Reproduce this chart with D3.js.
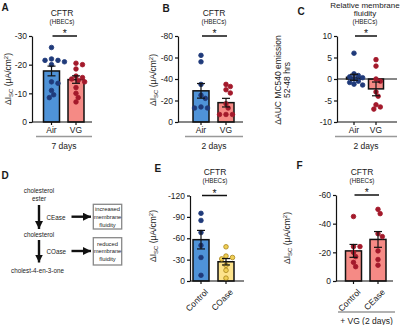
<!DOCTYPE html>
<html>
<head>
<meta charset="utf-8">
<script src="https://cdn.jsdelivr.net/npm/d3@7"></script>
<style>
  body { margin: 0; background: #fff; }
  svg { display: block; font-family: 'Liberation Sans', Arial, sans-serif; }
</style>
</head>
<body>
<div id="chart"></div>
<script>
// values (ΔIsc is negative, plotted with -30 on top)
const aCats = ['Air', 'VG']
const aAir = [-26, -22, -21.5, -21.5, -21, -20, -14, -13.5, -11, -9.5, -8.5]
const aVG = [-20.5, -20, -18.5, -16, -15.5, -15, -14.5, -14, -12, -10, -8.5, -7]
const aMeans = [-17.8, -14.8]
const aSems = [1.7, 1.3]
const aTicks = [0, -10, -20, -30]

const bCats = ['Air', 'VG']
const bAir = [-62, -56, -35, -25, -22, -14, -13, -13]
const bVG = [-35, -33, -30, -27, -17, -13, -7, -7, -7]
const bMeans = [-29, -18]
const bSems = [6.8, 4]
const bTicks = [0, -20, -40, -60, -80]

const cCats = ['Air', 'VG']
const cAir = [6, 1.2, 0.8, 0.5, 0.3, 0, -0.5, -0.8, -1.2, -1.4]
const cVG = [4.5, 3, 0, -0.5, -3, -4, -6, -6.5, -7]
const cMeans = [0.4, -2.3]
const cSems = [0.7, 1.6]
const cTicks = [-10, -5, 0, 5, 10]

const eCats = ['Control', 'COase']
const eControl = [-95, -85, -68, -50, -33, -8]
const eCOase = [-48, -35, -33, -31, -22, -15, -4]
const eMeans = [-58, -27]
const eSems = [13, 4.5]
const eTicks = [0, -30, -60, -90, -120]

const fCats = ['Control', 'CEase']
const fControl = [-45, -24, -24, -20, -17, -13, -10]
const fCEase = [-50, -47, -33, -31, -21, -15, -11]
const fMeans = [-21, -29]
const fSems = [4.5, 5.5]
const fTicks = [0, -20, -40, -60]

const BLUE = { fill: '#4f93d8', dot: '#1f3a7a', dotStroke: '#1f3a7a' }
const RED = { fill: '#f58a85', dot: '#a3192b', dotStroke: '#a3192b' }
const YELLOW = { fill: '#fde38c', dot: '#f0cf55', dotStroke: '#a8841c' }

const svg = d3.select('#chart')
  .append('svg')
  .attr('width', 400)
  .attr('height', 325)

const ink = '#1a1a1a'

function txt (x, y, s, size, opt = {}) {
  return svg.append('text')
    .attr('x', x)
    .attr('y', y)
    .attr('text-anchor', opt.anchor || 'middle')
    .attr('font-size', size)
    .attr('font-weight', opt.bold ? 'bold' : null)
    .attr('fill', opt.fill || ink)
    .text(s)
}

// simple deterministic swarm so dots don't sit on top of each other
function swarm (vals, y, cx, r) {
  const placed = []
  return vals.map(v => {
    const yy = y(v)
    let x = cx
    for (let k = 0; k < 30; k++) {
      const off = k === 0 ? 0 : (k % 2 ? 1 : -1) * Math.ceil(k / 2) * r * 0.9
      x = cx + off
      if (!placed.some(p => Math.hypot(p.x - x, p.y - yy) < r * 1.9)) break
    }
    placed.push({ x: x, y: yy })
    return { x: x, y: yy }
  })
}

function barPanel (cfg) {
  const y = d3.scaleLinear().domain(cfg.domain).range([cfg.yBottom, cfg.yTop])
  const step = (cfg.centers[1] - cfg.centers[0])
  const x = d3.scaleBand()
    .domain(cfg.cats)
    .range([cfg.centers[0] - step / 2, cfg.centers[1] + step / 2])
    .paddingInner(1 - cfg.barW / step)
    .paddingOuter((1 - cfg.barW / step) / 2)

  const g = svg.append('g')
  const base = y(0)

  // bars
  g.selectAll('.bar')
    .data(cfg.means)
    .enter()
    .append('rect')
    .attr('class', 'bar')
    .attr('x', (d, i) => x(cfg.cats[i]))
    .attr('width', x.bandwidth())
    .attr('y', d => Math.min(y(d), base))
    .attr('height', d => Math.abs(y(d) - base))
    .attr('fill', (d, i) => cfg.colors[i].fill)
    .attr('stroke', '#111')
    .attr('stroke-width', 1.5)

  // zero line when the axis does not start at 0
  if (cfg.zeroLine) {
    g.append('line')
      .attr('x1', cfg.axisX).attr('x2', cfg.xEnd)
      .attr('y1', base).attr('y2', base)
      .attr('stroke', '#111').attr('stroke-width', 1.2)
  }

  // dots
  cfg.dots.forEach((vals, i) => {
    const cx = x(cfg.cats[i]) + x.bandwidth() / 2
    g.selectAll('.dot' + i)
      .data(swarm(vals, y, cx, 2.4))
      .enter()
      .append('circle')
      .attr('cx', d => d.x)
      .attr('cy', d => d.y)
      .attr('r', 2.3)
      .attr('fill', cfg.colors[i].dot)
      .attr('stroke', cfg.colors[i].dotStroke)
      .attr('stroke-width', 0.8)
  })

  // error bars
  cfg.means.forEach((m, i) => {
    const cx = x(cfg.cats[i]) + x.bandwidth() / 2
    const y1 = y(m - cfg.sems[i])
    const y2 = y(m + cfg.sems[i])
    g.append('line')
      .attr('x1', cx).attr('x2', cx)
      .attr('y1', y1).attr('y2', y2)
      .attr('stroke', '#111').attr('stroke-width', 1.2)
    ;[y1, y2].forEach(yy => {
      g.append('line')
        .attr('x1', cx - 4).attr('x2', cx + 4)
        .attr('y1', yy).attr('y2', yy)
        .attr('stroke', '#111').attr('stroke-width', 1.2)
    })
  })

  // y axis
  const ya = g.append('g')
    .attr('transform', `translate(${cfg.axisX},0)`)
    .call(d3.axisLeft(y).tickValues(cfg.ticks).tickFormat(d => String(d))
      .tickSize(3).tickSizeOuter(0).tickPadding(2))
  ya.select('.domain').attr('stroke', '#111').attr('stroke-width', 1.2)
  ya.selectAll('.tick line').attr('stroke', '#111').attr('stroke-width', 1.2)
  ya.selectAll('.tick text').attr('font-size', 8.5).attr('fill', ink)
    .attr('font-family', "'Liberation Sans', Arial, sans-serif")

  // x axis
  g.append('line')
    .attr('x1', cfg.axisX).attr('x2', cfg.xEnd)
    .attr('y1', cfg.yBottom).attr('y2', cfg.yBottom)
    .attr('stroke', '#111').attr('stroke-width', 1.2)
  const xa = g.append('g')
    .attr('transform', `translate(0,${cfg.yBottom})`)
    .call(d3.axisBottom(x).tickSize(3).tickSizeOuter(0).tickPadding(2))
  xa.select('.domain').remove()
  xa.selectAll('.tick line').attr('stroke', '#111').attr('stroke-width', 1.2)
  xa.selectAll('.tick text').attr('font-size', 8.5).attr('fill', ink)
    .attr('font-family', "'Liberation Sans', Arial, sans-serif")
  if (cfg.rotate) {
    xa.selectAll('.tick text')
      .attr('text-anchor', 'end')
      .attr('dy', '0.35em')
      .attr('transform', 'translate(2,6) rotate(-45)')
  }

  // significance bar
  const sx1 = cfg.centers[0] + 1
  const sx2 = cfg.centers[1] + 1
  g.append('line')
    .attr('x1', sx1).attr('x2', sx2)
    .attr('y1', cfg.yTop).attr('y2', cfg.yTop)
    .attr('stroke', '#111').attr('stroke-width', 1.5)
  txt((sx1 + sx2) / 2, cfg.yTop + 1, '*', 10.5)

  // y title
  const t = svg.append('text')
    .attr('transform', `translate(${cfg.labelX},${cfg.labelY}) rotate(-90)`)
    .attr('text-anchor', 'middle')
    .attr('font-size', 8.5)
    .attr('fill', ink)
  if (cfg.yTitle) {
    cfg.yTitle.forEach((line, k) => {
      t.append('tspan').attr('x', 0).attr('dy', k === 0 ? 0 : 8.5).text(line)
    })
  } else {
    t.append('tspan').text('ΔI')
    t.append('tspan').attr('font-size', 6).attr('dy', 2).text('SC')
    t.append('tspan').attr('dy', -2).text(' (μA/cm')
    t.append('tspan').attr('font-size', 6).attr('dy', -3).text('2')
    t.append('tspan').attr('dy', 3).text(')')
  }

  // group line under categories
  if (cfg.group) {
    svg.append('line')
      .attr('x1', cfg.group.x1).attr('x2', cfg.group.x2)
      .attr('y1', cfg.group.y).attr('y2', cfg.group.y)
      .attr('stroke', '#999').attr('stroke-width', 1.5)
    txt((cfg.group.x1 + cfg.group.x2) / 2, cfg.group.y + 12, cfg.group.label, 8.5)
  }
}

// panel titles and letters
txt(1.5, 10.5, 'A', 10, { anchor: 'start', bold: true })
txt(62, 16, 'CFTR', 8.5)
txt(62, 24, '(HBECs)', 6.3)
txt(162.5, 11.5, 'B', 10, { anchor: 'start', bold: true })
txt(214, 16, 'CFTR', 8.5)
txt(214, 24, '(HBECs)', 6.3)
txt(297.5, 15, 'C', 10, { anchor: 'start', bold: true })
txt(365, 7.5, 'Relative membrane', 8)
txt(365, 16, 'fluidity', 8)
txt(365, 23.5, '(HBECs)', 6.3)
txt(1.5, 179, 'D', 10, { anchor: 'start', bold: true })
txt(154.5, 172, 'E', 10, { anchor: 'start', bold: true })
txt(215, 175, 'CFTR', 8.5)
txt(215, 183, '(HBECs)', 6.3)
txt(296.5, 169, 'F', 10, { anchor: 'start', bold: true })
txt(362, 175, 'CFTR', 8.5)
txt(362, 183, '(HBECs)', 6.3)

barPanel({
  cats: aCats, dots: [aAir, aVG], means: aMeans, sems: aSems, ticks: aTicks,
  domain: [0, -30], yBottom: 122, yTop: 36, axisX: 32, xEnd: 92,
  centers: [51.5, 76], barW: 16, colors: [BLUE, RED],
  labelX: 11, labelY: 79,
  group: { x1: 36, x2: 92, y: 136.5, label: '7 days' }
})

barPanel({
  cats: bCats, dots: [bAir, bVG], means: bMeans, sems: bSems, ticks: bTicks,
  domain: [0, -80], yBottom: 122, yTop: 36, axisX: 178, xEnd: 243,
  centers: [201, 226], barW: 16, colors: [BLUE, RED],
  labelX: 156, labelY: 80,
  group: { x1: 185, x2: 243, y: 136.5, label: '2 days' }
})

barPanel({
  cats: cCats, dots: [cAir, cVG], means: cMeans, sems: cSems, ticks: cTicks,
  domain: [-10, 10], yBottom: 122, yTop: 36, axisX: 337, xEnd: 397,
  centers: [354, 376], barW: 15, colors: [BLUE, RED], zeroLine: true,
  labelX: 281, labelY: 80, yTitle: ['ΔAUC MC540 emission', '52-48 hrs'],
  group: { x1: 335, x2: 397, y: 136.5, label: '2 days' }
})

barPanel({
  cats: eCats, dots: [eControl, eCOase], means: eMeans, sems: eSems, ticks: eTicks,
  domain: [0, -120], yBottom: 281, yTop: 195.5, axisX: 190, xEnd: 244,
  centers: [201, 226], barW: 16, colors: [BLUE, YELLOW], rotate: true,
  labelX: 156, labelY: 236
})

barPanel({
  cats: fCats, dots: [fControl, fCEase], means: fMeans, sems: fSems, ticks: fTicks,
  domain: [0, -60], yBottom: 281, yTop: 195, axisX: 336, xEnd: 393,
  centers: [353.5, 378], barW: 16, colors: [RED, RED], rotate: true,
  labelX: 290, labelY: 238,
  group: { x1: 338, x2: 395, y: 312, label: '+ VG (2 days)' }
})

// panel D: pathway diagram
const dSize = 6.3
svg.append('defs').append('marker')
  .attr('id', 'head')
  .attr('markerUnits', 'userSpaceOnUse')
  .attr('viewBox', '0 -5 10 10')
  .attr('refX', 10)
  .attr('refY', 0)
  .attr('markerWidth', 8)
  .attr('markerHeight', 8)
  .attr('orient', 'auto')
  .append('path')
  .attr('d', 'M0,-5L10,0L0,5Z')
  .attr('fill', '#111')

const arrows = [
  [39, 205, 39, 229], [39, 240, 39, 262.5],
  [71.5, 216.7, 91, 216.7], [71.5, 251, 91, 251]
]
svg.selectAll('.arrow')
  .data(arrows)
  .enter()
  .append('line')
  .attr('class', 'arrow')
  .attr('x1', d => d[0]).attr('y1', d => d[1])
  .attr('x2', d => d[2]).attr('y2', d => d[3])
  .attr('stroke', '#111')
  .attr('stroke-width', 2.4)
  .attr('marker-end', 'url(#head)')

txt(39, 192.5, 'cholesterol', dSize)
txt(39, 201, 'ester', dSize)
txt(46.5, 220, 'CEase', dSize, { anchor: 'start' })
txt(39, 237, 'cholesterol', dSize)
txt(46.5, 253.5, 'COase', dSize, { anchor: 'start' })
txt(37.5, 272.5, 'cholest-4-en-3-one', dSize)

const boxes = [
  { y: 204.3, h: 24.7, lines: ['increased', 'membrane', 'fluidity'] },
  { y: 237.7, h: 27.3, lines: ['reduced', 'membrane', 'fluidity'] }
]
boxes.forEach(b => {
  svg.append('rect')
    .attr('x', 93.3).attr('y', b.y)
    .attr('width', 28.4).attr('height', b.h)
    .attr('fill', 'none')
    .attr('stroke', '#888')
    .attr('stroke-width', 1.3)
  b.lines.forEach((l, k) => {
    txt(107.5, b.y + 6.6 + k * 7.8 + (b.h - 24.7) / 2, l, 5.8)
  })
})
</script>
</body>
</html>
